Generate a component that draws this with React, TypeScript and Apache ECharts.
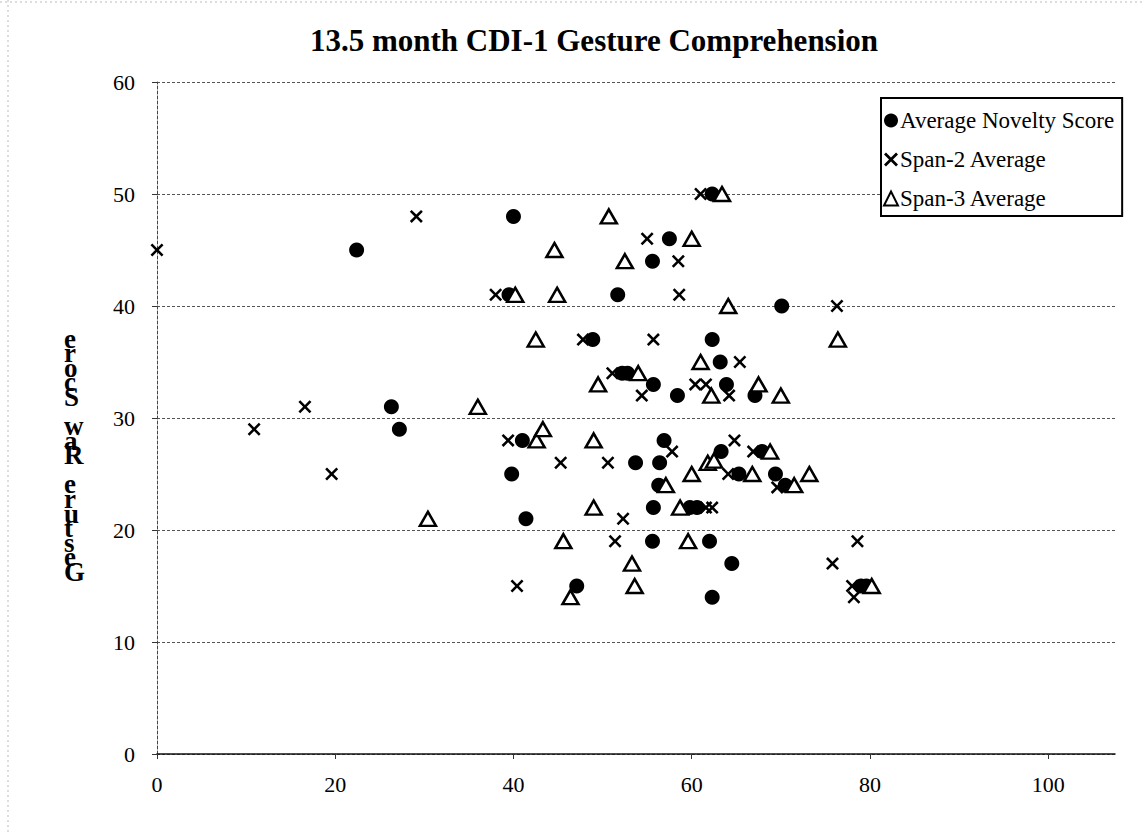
import React, { useEffect, useRef } from "react";
import * as echarts from "echarts";

const titleText = "13.5 month CDI-1 Gesture Comprehension";
const yAxisTitle = "Gesture Raw Score";
const seriesNames = ["Average Novelty Score", "Span-2 Average", "Span-3 Average"];
const xTicks = [0, 20, 40, 60, 80, 100];
const yTicks = [0, 10, 20, 30, 40, 50, 60];

const noveltyPoints: number[][] = [
  [22.4, 45], [40, 48], [39.5, 41], [48.9, 37], [26.3, 31], [27.2, 29], [41, 28], [39.8, 25], [41.4, 21], [47.1, 15],
  [62.3, 50], [57.5, 46], [55.6, 44], [51.7, 41], [70.1, 40], [62.3, 37], [63.2, 35], [52.2, 34], [52.8, 34],
  [55.7, 33], [58.4, 32], [63.9, 33], [67.1, 32], [56.9, 28], [63.3, 27], [53.7, 26], [56.4, 26], [67.9, 27],
  [65.3, 25], [69.4, 25], [70.5, 24], [56.3, 24], [55.7, 22], [59.8, 22], [60.6, 22], [55.6, 19], [62, 19],
  [64.5, 17], [62.3, 14], [79, 15], [79.6, 15],
];

const span2Points: number[][] = [
  [0, 45], [29.1, 48], [38, 41], [47.8, 37], [16.6, 31], [10.9, 29], [19.6, 25], [39.4, 28], [45.3, 26], [40.4, 15],
  [61, 50], [55, 46], [58.5, 44], [58.6, 41], [76.3, 40], [55.7, 37], [65.4, 35], [51.1, 34], [54.4, 32],
  [60.4, 33], [61.6, 33], [64.2, 32], [57.8, 27], [64.8, 28], [66.9, 27], [50.6, 26], [64.1, 25], [69.6, 23.8],
  [61.6, 22], [62.3, 22], [52.3, 21], [51.4, 19], [78.6, 19], [75.8, 17], [78, 15], [78.2, 14],
];

const span3Points: number[][] = [
  [44.6, 45], [40.2, 41], [44.9, 41], [42.5, 37], [49.5, 33], [36, 31], [42.6, 28], [43.3, 29], [49, 28], [49, 22],
  [30.4, 21], [45.6, 19], [46.4, 14], [63.4, 50], [50.7, 48], [60, 46], [52.5, 44], [64.1, 40], [76.4, 37],
  [61, 35], [54, 34], [62.2, 32], [67.5, 33], [70, 32], [61.8, 26], [62.5, 26.2], [68.8, 27], [60, 25],
  [66.8, 25], [71.5, 24], [73.2, 25], [57.1, 24], [58.7, 22], [59.6, 19], [53.3, 17], [53.6, 15], [80.2, 15],
];

const SERIF = "'Liberation Serif', 'Times New Roman', 'DejaVu Serif', serif";
const CROSS =
  "path://M0,1.4L1.4,0L5,3.6L8.6,0L10,1.4L6.4,5L10,8.6L8.6,10L5,6.4L1.4,10L0,8.6L3.6,5Z";

export default function App() {
  const ref = useRef<HTMLDivElement>(null);
  useEffect(() => {
    if (!ref.current) return;
    const chart = echarts.init(ref.current, null, { renderer: "svg" });
    chart.setOption({
      animation: false,
      backgroundColor: "#fff",
      title: {
        text: titleText,
        left: 589,
        top: 20,
        textAlign: "center",
        textStyle: { fontFamily: SERIF, fontWeight: "bold", fontSize: 31, color: "#000" },
      },
      grid: { left: 157, top: 82, right: 29, bottom: 78, containLabel: false },
      legend: {
        orient: "vertical",
        left: 881,
        top: 98,
        padding: [11, 8, 6, 2],
        itemGap: 16,
        itemWidth: 14,
        itemHeight: 14,
        borderColor: "#000",
        borderWidth: 2,
        backgroundColor: "#fff",
        data: seriesNames,
        textStyle: { fontFamily: SERIF, fontSize: 23, color: "#000", padding: [0, 0, 0, -3] },
      },
      xAxis: {
        type: "value",
        min: 0,
        max: 107.5,
        interval: 20,
        axisLine: { show: true, lineStyle: { color: "#111", width: 1.5 } },
        axisTick: { show: true, length: 5, lineStyle: { color: "#333" } },
        splitLine: { show: false },
        axisLabel: {
          margin: 19,
          fontFamily: SERIF,
          fontSize: 22,
          color: "#000",
          showMaxLabel: false,
          formatter: (v: number) => (xTicks.includes(v) ? String(v) : ""),
        },
      },
      yAxis: {
        type: "value",
        min: 0,
        max: 60,
        interval: 10,
        axisLine: { show: true, lineStyle: { color: "#444", width: 1, type: [3, 2] } },
        axisTick: { show: true, length: 5, lineStyle: { color: "#333" } },
        splitLine: { show: true, lineStyle: { color: "#555", width: 1, type: [3, 2] } },
        axisLabel: {
          margin: 22,
          fontFamily: SERIF,
          fontSize: 22,
          color: "#000",
          formatter: (v: number) => (yTicks.includes(v) ? String(v) : ""),
        },
      },
      graphic: [
        {
          type: "text",
          left: 64,
          top: 325,
          style: {
            text: yAxisTitle.split("").reverse().join("\n"),
            fontFamily: SERIF,
            fontWeight: "bold",
            fontSize: 27,
            lineHeight: 14.6,
            fill: "#000",
            align: "center",
          },
        },
        {
          type: "line",
          shape: { x1: 8, y1: 0, x2: 8, y2: 832 },
          style: { stroke: "#bbb", lineWidth: 1, lineDash: [2, 3] },
        },
        {
          type: "line",
          shape: { x1: 0, y1: 2, x2: 1144, y2: 2 },
          style: { stroke: "#bbb", lineWidth: 1, lineDash: [2, 3] },
        },
      ],
      series: [
        {
          name: seriesNames[0],
          type: "scatter",
          data: noveltyPoints,
          symbol: "circle",
          symbolSize: 15,
          itemStyle: { color: "#000", opacity: 1 },
          z: 3,
        },
        {
          name: seriesNames[1],
          type: "scatter",
          data: span2Points,
          symbol: CROSS,
          symbolSize: 13,
          itemStyle: { color: "#000", opacity: 1 },
          z: 4,
        },
        {
          name: seriesNames[2],
          type: "scatter",
          data: span3Points,
          symbol: "triangle",
          symbolSize: [16, 14],
          itemStyle: { color: "#fff", borderColor: "#000", borderWidth: 2.5, opacity: 1 },
          z: 5,
        },
      ],
    });
    return () => chart.dispose();
  }, []);
  return (
    <div
      ref={ref}
      style={{ position: "fixed", left: 0, top: 0, width: 1144, height: 832, background: "#fff" }}
    />
  );
}
